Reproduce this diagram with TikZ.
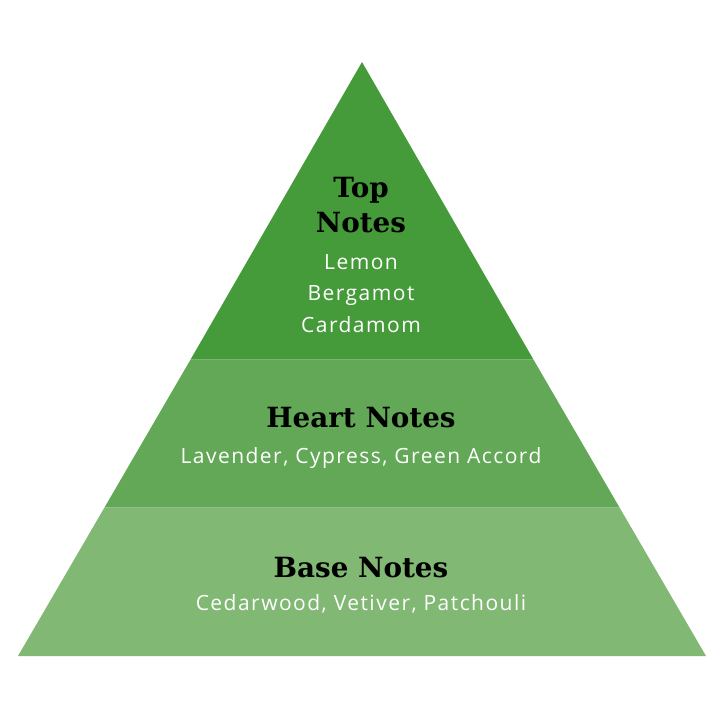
\documentclass[tikz,border=0pt]{standalone}
\usepackage{fontspec}
\setmainfont{Open Sans}[LetterSpace=7]
\newfontfamily\headfont{DejaVu Serif}
\definecolor{topgreen}{RGB}{69,154,58}
\definecolor{midgreen}{RGB}{98,168,87}
\definecolor{basegreen}{RGB}{128,184,116}
\begin{document}
\begin{tikzpicture}[x=1pt,y=-1pt,
  head/.style={font=\headfont\bfseries\fontsize{27.8}{35}\selectfont, text=black, align=center, inner sep=0pt, anchor=base},
  body/.style={font=\fontsize{21}{31.5}\selectfont, text=white, align=center, inner sep=0pt, anchor=base}]
\useasboundingbox (0,0) rectangle (720,720);
\fill[white] (0,0) rectangle (720,720);
% layers
\fill[basegreen] (18,656) -- (706,656) -- (619.4,507.3) -- (104.6,507.3) -- cycle;
\fill[midgreen] (104.6,507.3) -- (619.4,507.3) -- (533.3,359.3) -- (190.7,359.3) -- cycle;
\fill[topgreen] (190.7,359.3) -- (533.3,359.3) -- (362,62) -- cycle;
% texts
\node[head] (toph1) at (361,197) {Top};
\node[head] (toph2) at (361,232) {Notes};
\node[body] (t1) at (361,269) {Lemon};
\node[body] (t2) at (361,300.5) {Bergamot};
\node[body] (t3) at (361,332) {Cardamom};
\node[head] (hh) at (361,427) {Heart Notes};
\node[body] (h1) at (361,463) {Lavender, Cypress, Green Accord};
\node[head] (bh) at (361,577) {Base Notes};
\node[body] (b1) at (361,610) {Cedarwood, Vetiver, Patchouli};
\end{tikzpicture}
\end{document}
